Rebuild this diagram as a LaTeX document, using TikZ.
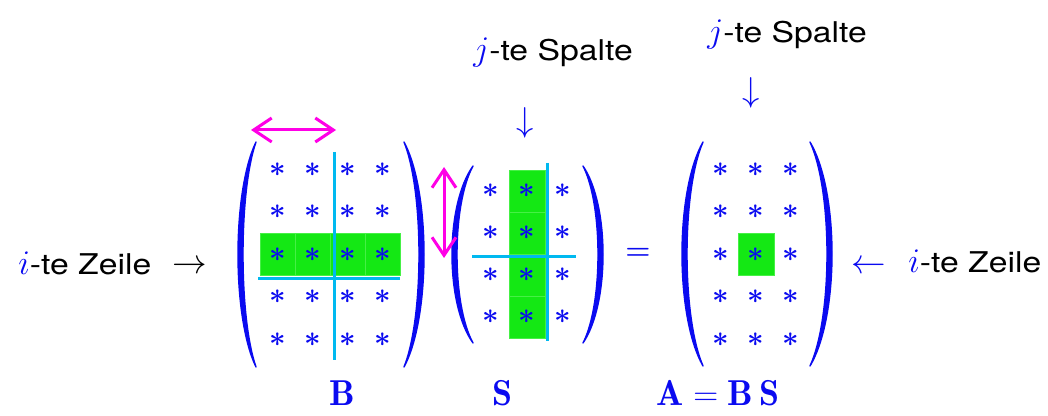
\documentclass[tikz,border=0pt]{standalone}
\usepackage{fontspec}
\newfontfamily\hv[FakeStretch=1.18]{TeX Gyre Heros}
\usetikzlibrary{arrows.meta}
\definecolor{pblue}{RGB}{10,10,240}
\definecolor{cellgreen}{RGB}{20,232,20}
\definecolor{celledge}{RGB}{70,240,70}
\definecolor{linecyan}{RGB}{0,185,240}
\definecolor{arrmag}{RGB}{255,0,230}
\newcommand\mparen[5]{%
  \pgfmathsetmacro\pxa{(4*#4-#1)/3}%
  \pgfmathsetmacro\pxb{(4*(#4+#5)-#1)/3}%
  \pgfmathsetmacro\pya{#2+0.22*(#3-#2)}%
  \pgfmathsetmacro\pyb{#3-0.22*(#3-#2)}%
  \filldraw[pblue,line width=0.7pt,line join=round] (#1,#2) .. controls (\pxa,\pya) and (\pxa,\pyb) .. (#1,#3)
    .. controls (\pxb,\pyb) and (\pxb,\pya) .. (#1,#2) -- cycle;}
\begin{document}
\begin{tikzpicture}[x=0.5pt,y=-0.5pt,
  star/.style={inner sep=0pt,text=pblue,font=\fontsize{14.5}{17}\selectfont\boldmath},
  cell/.style={fill=cellgreen,draw=celledge,line width=0.3pt},
  divider/.style={draw=linecyan,line width=1.5pt},
  swap/.style={draw=arrmag,line width=1.5pt,{Straight Barb[length=9pt,width=12pt]}-{Straight Barb[length=9pt,width=12pt]}},
  txt/.style={inner sep=0pt,font=\hv\fontsize{14.3}{17}\selectfont},
  marr/.style={inner sep=0pt,font=\fontsize{17}{20}\selectfont},
  lbl/.style={inner sep=0pt,text=pblue,font=\fontsize{18}{21}\selectfont}]
\useasboundingbox (0,0) rectangle (1048,416);

% ---- green highlights ----
\foreach \x in {278,313,348,383}
  \draw[cell] (\x-17.5,233) rectangle (\x+17.5,275);
\foreach \y in {170,212,254,296}
  \draw[cell] (509,\y) rectangle (545,\y+42);
\draw[cell] (738,233) rectangle (774,275);

% ---- cyan dividers ----
\coordinate (bv1) at (334,152); \coordinate (bv2) at (334,360);
\coordinate (bh1) at (258,279); \coordinate (bh2) at (400,279);
\coordinate (sv1) at (547,163); \coordinate (sv2) at (547,341);
\coordinate (sh1) at (472,257); \coordinate (sh2) at (576,257);
\draw[divider] (bv1) -- (bv2);
\draw[divider] (bh1) -- (bh2);
\draw[divider] (sv1) -- (sv2);
\draw[divider] (sh1) -- (sh2);

% ---- stars ----
\foreach \c/\x in {1/278,2/313,3/348,4/383}
  \foreach \r/\y in {1/169.5,2/212,3/254.5,4/297,5/339.5}
    \node[star] (b\r\c) at (\x,\y) {$*$};
\foreach \c/\x in {1/491,2/527,3/563}
  \foreach \r/\y in {1/191,2/233,3/275,4/317}
    \node[star] (s\r\c) at (\x,\y) {$*$};
\foreach \c/\x in {1/721,2/756,3/791}
  \foreach \r/\y in {1/169.5,2/212,3/254.5,4/297,5/339.5}
    \node[star] (a\r\c) at (\x,\y) {$*$};

% ---- parentheses ----
\mparen{256}{142}{367}{238}{5}
\mparen{404}{142}{367}{424}{-5}
\mparen{473}{166}{343}{452}{5}
\mparen{583}{166}{343}{603}{-5}
\mparen{703}{142}{366}{682}{5}
\mparen{810}{142}{366}{832}{-5}

% ---- magenta swap arrows ----
\coordinate (mh1) at (251,130); \coordinate (mh2) at (336,130);
\coordinate (mv1) at (444,167); \coordinate (mv2) at (444,258);
\draw[swap] (mh1) -- (mh2);
\draw[swap] (mv1) -- (mv2);

% ---- equals sign ----
\node[inner sep=0pt,text=pblue,font=\fontsize{15.5}{18}\selectfont\boldmath] (eq) at (638,254) {$=$};

% ---- labels ----
\node[txt,anchor=base west] (zl) at (18,275) {{\fontsize{17}{20}\selectfont\color{pblue}$i$}-te Zeile};
\node[marr,anchor=base west] (al) at (172,274) {$\rightarrow$};
\node[marr,anchor=base west,text=pblue] (ar) at (851,274) {$\leftarrow$};
\node[txt,anchor=base west] (zr) at (908,273) {{\fontsize{17}{20}\selectfont\color{pblue}$i$}-te Zeile};

\node[txt,anchor=base west] (sp1) at (473,61) {{\fontsize{17}{20}\selectfont\color{pblue}$j$}-te Spalte};
\node[marr,text=pblue] (d1) at (525,122.5) {$\downarrow$};
\node[txt,anchor=base west] (sp2) at (707,43) {{\fontsize{17}{20}\selectfont\color{pblue}$j$}-te Spalte};
\node[marr,text=pblue] (d2) at (751,93) {$\downarrow$};

\node[lbl,anchor=base] (lb) at (342,405) {$\mathbf{B}$};
\node[lbl,anchor=base] (ls) at (502,405) {$\mathbf{S}$};
\node[lbl,anchor=base] (la) at (718,405) {$\mathbf{A}=\mathbf{B}\,\mathbf{S}$};
\end{tikzpicture}
\end{document}
